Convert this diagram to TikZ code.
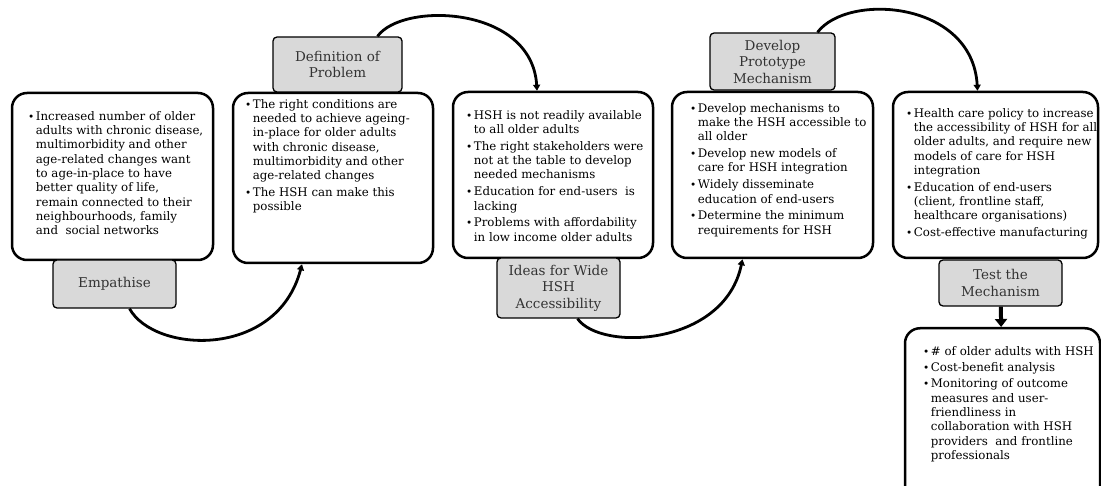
\documentclass[tikz,border=0pt]{standalone}
\usepackage{fontspec}
\setmainfont{DejaVu Serif}
\usetikzlibrary{arrows.meta}
\newcommand{\hsbul}{{\fontsize{10.5}{10}\selectfont\textbullet}}

\begin{document}
\begin{tikzpicture}[x=1pt, y=-1pt,
    card/.style={draw, line width=2.5pt, rounded corners=15pt, fill=white, inner sep=0pt},
    stage/.style={draw, line width=1.3pt, rounded corners=4pt, fill=black!15, text=black!80,
      align=center, inner sep=0pt, font=\fontsize{13.5}{16.5}\selectfont},
    body/.style={anchor=north west, inner sep=0pt, font=\fontsize{11.8}{14.3}\selectfont},
    swing/.style={line width=2.8pt, -{Triangle[length=6pt, width=7pt]}},
    push/.style={line width=4pt, -{Triangle[length=8pt, width=12pt]}}]
    \useasboundingbox (0,0) rectangle (1101,486);

    \node[card, minimum width=201pt, minimum height=167pt] (c1) at (112.5,176.5) {};
    \node[card, minimum width=200pt, minimum height=170pt] (c2) at (333,178) {};
    \node[card, minimum width=200pt, minimum height=166pt] (c3) at (553,175) {};
    \node[card, minimum width=201pt, minimum height=166pt] (c4) at (772.5,175) {};
    \node[card, minimum width=205pt, minimum height=166pt] (c5) at (995.5,175) {};
    \node[card, minimum width=195pt, minimum height=190pt, anchor=north] (c6) at (1002.5,327) {};

    \node[stage, minimum width=123pt, minimum height=48pt] (s1) at (114.5,284) {Empathise};
    \node[stage, minimum width=129pt, minimum height=55pt] (s2) at (337.5,64.5) {Definition of\\Problem};
    \node[stage, minimum width=123pt, minimum height=60pt] (s3) at (558.5,288) {Ideas for Wide\\HSH\\Accessibility};
    \node[stage, minimum width=125pt, minimum height=57pt] (s4) at (772.5,61.5) {Develop\\Prototype\\Mechanism};
    \node[stage, minimum width=123pt, minimum height=46pt] (s5) at (1000.5,283) {Test the\\Mechanism};

    \node[body] (t1) at (28,110) {\begin{tabular}{@{}l@{\hspace{1.5pt}}l@{}}
        \hsbul & Increased number of older\\
        & adults with chronic disease,\\
        & multimorbidity and other\\
        & age-related changes want\\
        & to age-in-place to have\\
        & better quality of life,\\
        & remain connected to their\\
        & neighbourhoods, family\\
        & and\ \ social networks
      \end{tabular}};
    \node[body] (t2) at (245,98) {\begin{tabular}{@{}l@{\hspace{1.5pt}}l@{}}
        \hsbul & The right conditions are\\
        & needed to achieve ageing-\\
        & in-place for older adults\\
        & with chronic disease,\\
        & multimorbidity and other\\
        & age-related changes\\[2.5pt]
        \hsbul & The HSH can make this\\
        & possible
      \end{tabular}};
    \node[body] (t3) at (466,109) {\begin{tabular}{@{}l@{\hspace{1.5pt}}l@{}}
        \hsbul & HSH is not readily available\\
        & to all older adults\\[2.5pt]
        \hsbul & The right stakeholders were\\
        & not at the table to develop\\
        & needed mechanisms\\[2.5pt]
        \hsbul & Education for end-users\ \ is\\
        & lacking\\[2.5pt]
        \hsbul & Problems with affordability\\
        & in low income older adults
      \end{tabular}};
    \node[body] (t4) at (690,102) {\begin{tabular}{@{}l@{\hspace{1.5pt}}l@{}}
        \hsbul & Develop mechanisms to\\
        & make the HSH accessible to\\
        & all older\\[2.5pt]
        \hsbul & Develop new models of\\
        & care for HSH integration\\[2.5pt]
        \hsbul & Widely disseminate\\
        & education of end-users\\[2.5pt]
        \hsbul & Determine the minimum\\
        & requirements for HSH
      \end{tabular}};
    \node[body] (t5) at (906,107) {\begin{tabular}{@{}l@{\hspace{1.5pt}}l@{}}
        \hsbul & Health care policy to increase\\
        & the accessibility of HSH for all\\
        & older adults, and require new\\
        & models of care for HSH\\
        & integration\\[2.5pt]
        \hsbul & Education of end-users\\
        & (client, frontline staff,\\
        & healthcare organisations)\\[2.5pt]
        \hsbul & Cost-effective manufacturing
      \end{tabular}};
    \node[body] (t6) at (923,345) {\begin{tabular}{@{}l@{\hspace{1.5pt}}l@{}}
        \hsbul & \# of older adults with HSH\\[2pt]
        \hsbul & Cost-benefit analysis\\[2pt]
        \hsbul & Monitoring of outcome\\
        & measures and user-\\
        & friendliness in\\
        & collaboration with HSH\\
        & providers\ \ and frontline\\
        & professionals
      \end{tabular}};

    \draw[swing] ([xshift=15pt]s1.south) .. controls +(25,45) and +(-25,95) .. ([xshift=-31pt]c2.south);
    \draw[swing] ([xshift=40pt]s2.north) .. controls +(25,-35) and +(-5,-85) .. ([xshift=-16pt]c3.north);
    \draw[swing] ([xshift=19pt]s3.south) .. controls +(23,33) and +(-18,87) .. ([xshift=-30pt]c4.south);
    \draw[swing] ([xshift=45pt]s4.north) .. controls +(30,-40) and +(-5,-90) .. ([xshift=-18pt]c5.north);
    \draw[push] (s5) -- (c6);
\end{tikzpicture}
\end{document}
